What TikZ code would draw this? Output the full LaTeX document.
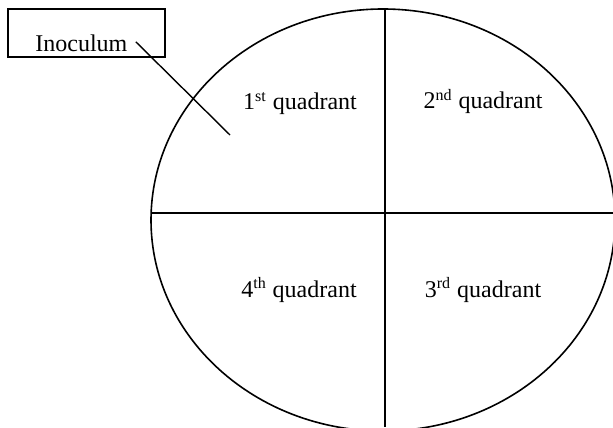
\documentclass[tikz,border=0pt]{standalone}
\usepackage{fontspec}
\setmainfont{Liberation Serif}
\usepackage{tikz}
\usetikzlibrary{positioning}
\tikzset{
  platepen/.style={draw=black, line width=0.8pt},
  labelbox/.style={rectangle, draw=black, line width=0.6pt, minimum width=78.5pt,
                   minimum height=24pt, inner sep=0pt},
  quadlbl/.style={anchor=base, inner sep=0pt, font=\fontsize{12}{14}\selectfont},
  pointer/.style={draw=black, line width=0.7pt},
}
\newcommand{\quadname}[2]{#1\textsuperscript{#2}~quadrant}

\begin{document}
\begin{tikzpicture}[x=0.5pt, y=-0.5pt]
\useasboundingbox (0,0) rectangle (613,427);
\clip (0,0) rectangle (613,427);
% the plate
\coordinate (platec) at (383,220);
\draw[platepen] (platec) ellipse [x radius=116pt, y radius=105.5pt];
\coordinate (vtop) at (385,9);
\coordinate (vbot) at (385,427);
\coordinate (hleft) at (151,213);
\coordinate (hright) at (613,213);
\draw[platepen] (vtop) -- (vbot);
\draw[platepen] (hleft) -- (hright);
% quadrant names
\node[quadlbl] (q1) at (300,110) {\quadname{1}{st}};
\node[quadlbl] (q2) at (483,109) {\quadname{2}{nd}};
\node[quadlbl] (q4) at (299,297) {\quadname{4}{th}};
\node[quadlbl] (q3) at (483,297) {\quadname{3}{rd}};
% inoculum label
\node[labelbox] (inocbox) at (86.5,33) {};
\node[quadlbl, anchor=base west] (inoctext) at (35,52) {Inoculum};
\coordinate (inocend) at (230,135);
\draw[pointer] ([xshift=4pt,yshift=1pt]inoctext.east) -- (inocend);
\end{tikzpicture}
\end{document}
